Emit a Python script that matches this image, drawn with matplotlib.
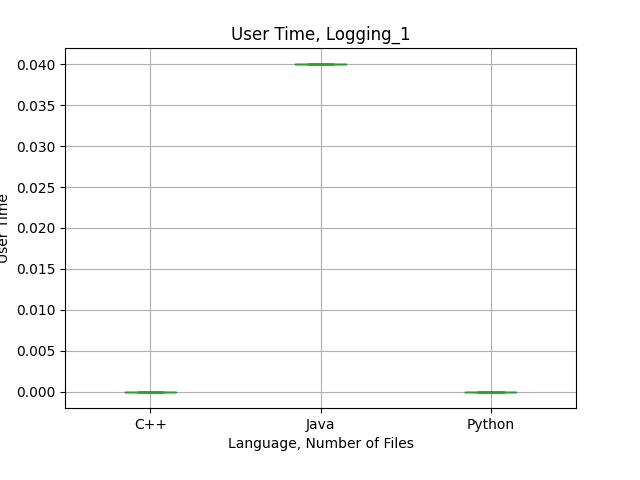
import pandas as pd
import matplotlib
matplotlib.use('Agg')
from matplotlib import pyplot as plt

# user time per run, by language
cpp = [0.0, 0.0, 0.0]
java = [0.04, 0.04, 0.04]
python = [0.0, 0.0, 0.0]
languages = ['C++', 'Java', 'Python']

df = pd.DataFrame({'C++': cpp, 'Java': java, 'Python': python})

fig, ax = plt.subplots(figsize=(6.4, 4.8), dpi=100)
df.boxplot(column=languages, ax=ax, grid=True)
ax.set_title('User Time, Logging_1')
ax.set_xlabel('Language, Number of Files')
ax.set_ylabel('User Time')
ax.set_ylim(-0.002, 0.042)
fig.subplots_adjust(left=0.102, right=0.9, top=0.9, bottom=0.15)
fig.savefig('out.png', dpi=100)
